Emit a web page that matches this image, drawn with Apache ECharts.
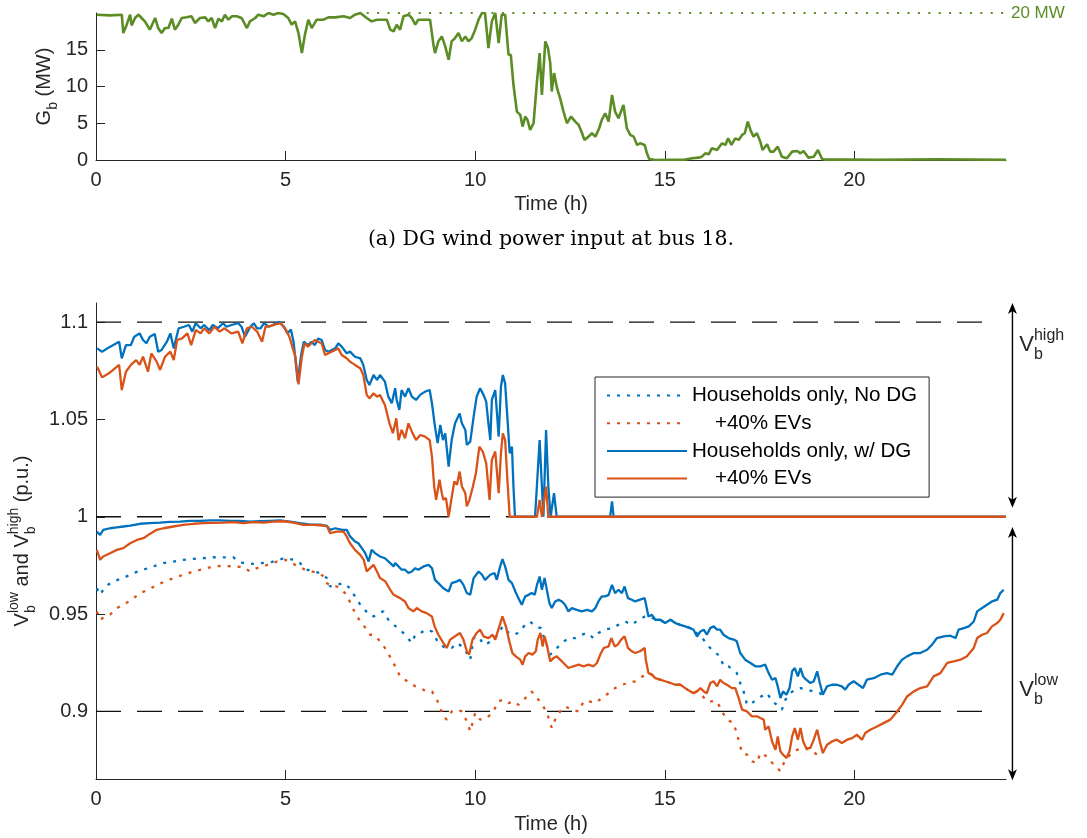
<!DOCTYPE html>
<html>
<head>
<meta charset="utf-8">
<script src="https://cdn.jsdelivr.net/npm/echarts@6/dist/echarts.min.js"></script>
<style>
  html, body { margin: 0; padding: 0; background: #fff; }
  #chart { width: 1087px; height: 838px; }
</style>
</head>
<body>
<div id="chart"></div>
<script>
// ---- (a) wind power at bus 18, MW ----
const windTime = [0.02,0.37,0.68,0.72,0.81,0.90,0.94,1.03,1.12,1.20,1.29,1.42,1.56,1.64,1.73,1.82,1.91,2.00,2.08,2.17,2.26,2.39,2.52,2.61,2.74,2.88,2.96,3.05,3.14,3.23,3.32,3.40,3.49,3.58,3.71,3.84,3.98,4.06,4.20,4.28,4.42,4.55,4.68,4.81,4.94,5.07,5.16,5.25,5.34,5.43,5.51,5.60,5.69,5.82,6.00,6.13,6.31,6.53,6.70,6.83,6.97,7.14,7.27,7.41,7.54,7.67,7.76,7.85,7.93,8.02,8.11,8.24,8.33,8.42,8.50,8.64,8.81,8.90,8.94,9.03,9.12,9.21,9.30,9.38,9.47,9.56,9.65,9.74,9.82,9.91,10.00,10.09,10.18,10.26,10.35,10.44,10.53,10.62,10.70,10.79,10.88,10.94,11.01,11.10,11.19,11.25,11.32,11.38,11.45,11.54,11.63,11.70,11.76,11.85,11.92,11.98,12.02,12.08,12.16,12.24,12.33,12.42,12.53,12.64,12.73,12.82,12.88,12.99,13.08,13.17,13.27,13.34,13.43,13.52,13.61,13.69,13.78,13.91,14.00,14.09,14.18,14.27,14.35,14.47,14.53,14.59,14.75,15.54,15.72,15.89,15.98,16.07,16.16,16.24,16.38,16.51,16.60,16.67,16.76,16.86,16.95,17.04,17.11,17.19,17.26,17.34,17.43,17.52,17.58,17.70,17.78,17.87,17.98,18.09,18.22,18.36,18.49,18.58,18.66,18.79,18.93,19.04,19.15,19.23,19.76,20.64,22.22,24.0];
const windMW = [19.77,19.68,19.77,17.27,18.41,19.77,18.32,19.32,19.77,19.32,18.86,17.73,19.32,17.95,17.27,17.95,17.95,19.23,17.73,18.41,19.32,19.41,19.55,18.64,19.32,19.41,18.86,19.32,17.95,19.23,18.86,19.77,19.09,19.55,19.55,19.32,17.95,18.86,19.32,19.77,19.55,20.0,19.77,20.0,19.86,19.32,18.41,18.86,17.27,14.55,17.05,19.09,17.95,19.09,19.09,19.41,19.41,19.55,19.32,19.77,20.0,19.32,18.86,19.09,19.09,19.09,17.73,17.50,18.41,17.73,19.55,19.77,19.32,18.41,19.09,19.09,19.09,15.68,14.55,16.14,16.82,15.45,13.64,16.14,16.59,17.27,16.14,16.82,16.14,16.59,17.73,19.09,20.0,20.0,15.23,18.86,20.0,15.91,19.77,19.77,14.32,14.32,10.23,6.59,6.14,4.55,5.91,5.45,4.09,5.0,10.68,14.55,8.86,16.14,15.23,13.18,9.32,11.82,9.77,8.41,6.59,5.0,5.91,5.23,4.77,3.64,2.73,3.18,3.64,3.18,4.32,5.45,6.36,5.23,8.86,6.59,5.68,7.5,4.32,3.41,3.18,2.05,2.27,2.05,0.91,0.14,0,0.05,0.23,0.32,0.45,0.91,0.77,1.59,1.36,2.27,2.05,2.95,2.05,2.95,2.73,3.41,3.64,5.23,4.09,3.18,3.64,2.5,1.36,2.14,1.14,1.14,1.82,0.45,0.23,1.14,1.23,0.91,1.23,0.32,0.45,1.36,0.14,0.05,0.05,0.02,0.1,0.02];
const windCap = 20;
const windCapFrom = 7.14;

// ---- (b) bus voltages, p.u. ----
// upper envelope V_b^high, households only with DG
const highBaseTime = [0.03,0.16,0.34,0.61,0.68,0.79,0.92,1.01,1.15,1.24,1.33,1.42,1.55,1.64,1.73,1.87,1.96,2.05,2.18,2.32,2.45,2.54,2.63,2.76,2.85,2.99,3.08,3.21,3.35,3.44,3.57,3.75,3.84,3.93,4.07,4.16,4.25,4.34,4.43,4.56,4.69,4.83,4.96,5.05,5.14,5.21,5.32,5.41,5.48,5.59,5.68,5.77,5.86,5.95,6.04,6.13,6.31,6.39,6.48,6.61,6.70,6.83,6.97,7.05,7.14,7.21,7.32,7.41,7.49,7.62,7.71,7.80,7.89,7.93,8.00,8.06,8.15,8.24,8.33,8.44,8.55,8.68,8.80,8.86,8.94,9.01,9.08,9.15,9.21,9.30,9.38,9.47,9.59,9.65,9.74,9.78,9.87,9.96,10.04,10.13,10.22,10.29,10.35,10.40,10.44,10.53,10.62,10.68,10.73,10.79,10.86,10.91,10.97,11.01,11.05,11.58,11.70,11.76,11.80,11.87,11.93,11.99,12.08,12.15,13.56,13.61,13.65,24.0];
const highBase = [1.0865,1.0848,1.0870,1.0899,1.0814,1.0882,1.0882,1.0925,1.0942,1.0908,1.0891,1.0925,1.0939,1.0848,1.0857,1.0899,1.0942,1.0865,1.0968,1.0976,1.0985,1.0951,1.0994,1.0968,1.0985,1.0959,1.0985,1.0968,1.0994,1.0976,1.0985,1.0994,1.0976,1.0925,1.0976,1.0994,1.0968,1.0968,1.0994,1.0976,1.0988,1.1000,1.0976,1.0942,1.0962,1.0899,1.0694,1.0831,1.0899,1.0882,1.0899,1.0882,1.0916,1.0908,1.0857,1.0848,1.0865,1.0891,1.0874,1.0840,1.0848,1.0822,1.0814,1.0780,1.0703,1.0677,1.0728,1.0703,1.0728,1.0694,1.0617,1.0583,1.0660,1.0600,1.0549,1.0651,1.0617,1.0660,1.0617,1.0600,1.0626,1.0643,1.0651,1.0583,1.0463,1.0378,1.0472,1.0394,1.0429,1.0258,1.0394,1.0480,1.0531,1.0480,1.0446,1.0369,1.0386,1.0514,1.0617,1.0660,1.0626,1.0591,1.0480,1.0394,1.0600,1.0651,1.0412,1.0668,1.0728,1.0685,1.0480,1.0326,1.0360,1.0155,1.0000,1.0,1.0394,1.0155,1.0,1.0446,1.0155,1.0,1.0121,1.0,1.0,1.0079,1.0,1.0];
// upper envelope, +40% EVs with DG
const highEvTime = [0.03,0.16,0.34,0.61,0.68,0.79,0.92,1.06,1.15,1.24,1.37,1.46,1.60,1.69,1.82,1.96,2.05,2.14,2.27,2.41,2.51,2.63,2.76,2.85,2.99,3.12,3.26,3.39,3.57,3.75,3.86,3.98,4.11,4.25,4.38,4.47,4.61,4.74,4.87,5.01,5.10,5.19,5.26,5.34,5.43,5.50,5.59,5.68,5.77,5.86,5.95,6.04,6.13,6.31,6.39,6.48,6.61,6.70,6.83,6.97,7.05,7.14,7.21,7.32,7.41,7.49,7.62,7.74,7.83,7.92,7.98,8.06,8.15,8.24,8.33,8.44,8.55,8.68,8.80,8.86,8.92,8.97,9.06,9.12,9.16,9.23,9.30,9.37,9.45,9.52,9.59,9.65,9.74,9.78,9.85,9.94,10.02,10.11,10.20,10.29,10.38,10.44,10.53,10.62,10.68,10.73,10.79,10.85,10.91,11.63,11.70,11.76,11.80,11.87,11.93,24.0];
const highEv = [1.0771,1.0716,1.0737,1.0780,1.0651,1.0745,1.0780,1.0805,1.0780,1.0822,1.0745,1.0839,1.0797,1.0754,1.0822,1.0848,1.0805,1.0908,1.0916,1.0942,1.0882,1.0959,1.0942,1.0968,1.0942,1.0976,1.0951,1.0968,1.0942,1.0951,1.0891,1.0968,1.0976,1.0951,1.0899,1.0976,1.0980,1.0988,1.0994,1.0959,1.0925,1.0865,1.0822,1.0680,1.0822,1.0891,1.0874,1.0891,1.0908,1.0899,1.0891,1.0831,1.0840,1.0857,1.0865,1.0831,1.0814,1.0797,1.0780,1.0763,1.0728,1.0626,1.0608,1.0634,1.0617,1.0626,1.0574,1.0480,1.0429,1.0506,1.0394,1.0446,1.0403,1.0480,1.0437,1.0394,1.0420,1.0412,1.0394,1.0309,1.0155,1.0087,1.0190,1.0121,1.0087,1.0096,1.0000,1.0087,1.0181,1.0164,1.0232,1.0155,1.0121,1.0053,1.0087,1.0155,1.0224,1.0360,1.0335,1.0275,1.0087,1.0292,1.0335,1.0121,1.0326,1.0429,1.0394,1.0190,1.0,1.0,1.0087,1.0,1.0,1.0155,1.0,1.0];
// lower envelope V_b^low, households only with DG
const lowBaseTime = [0.02,0.11,0.19,0.37,0.55,0.72,0.90,1.16,1.42,1.69,1.95,2.22,2.48,2.74,3.01,3.27,3.54,3.80,4.06,4.33,4.59,4.85,5.12,5.38,5.65,5.91,6.09,6.17,6.31,6.49,6.61,6.70,6.83,6.92,7.01,7.10,7.19,7.27,7.36,7.49,7.62,7.76,7.85,7.89,7.98,8.06,8.15,8.24,8.33,8.42,8.50,8.64,8.77,8.86,8.94,9.03,9.16,9.30,9.38,9.52,9.60,9.69,9.78,9.87,9.96,10.09,10.18,10.26,10.40,10.51,10.57,10.66,10.72,10.79,10.88,10.97,11.06,11.14,11.23,11.32,11.41,11.49,11.57,11.63,11.70,11.76,11.83,11.89,11.96,12.02,12.11,12.20,12.29,12.37,12.46,12.55,12.68,12.81,12.95,13.08,13.17,13.25,13.34,13.43,13.52,13.61,13.69,13.78,13.87,13.94,14.03,14.13,14.22,14.35,14.47,14.50,14.57,14.66,14.75,14.88,15.01,15.15,15.28,15.41,15.54,15.67,15.76,15.85,15.94,16.03,16.11,16.20,16.29,16.38,16.46,16.55,16.68,16.82,16.90,16.99,17.12,17.26,17.39,17.52,17.65,17.74,17.83,17.92,17.98,18.05,18.12,18.21,18.29,18.36,18.43,18.51,18.58,18.65,18.73,18.84,18.93,19.02,19.09,19.17,19.28,19.41,19.54,19.67,19.76,19.85,19.98,20.11,20.23,20.33,20.51,20.69,20.86,21.00,21.13,21.26,21.39,21.57,21.74,21.92,22.05,22.18,22.36,22.53,22.67,22.75,22.89,23.02,23.15,23.24,23.37,23.50,23.63,23.77,23.85,23.94];
const lowBase = [0.9924,0.9907,0.9933,0.9941,0.9946,0.9950,0.9955,0.9964,0.9967,0.9970,0.9974,0.9975,0.9979,0.9979,0.9981,0.9981,0.9979,0.9979,0.9975,0.9977,0.9979,0.9981,0.9975,0.9967,0.9959,0.9959,0.9953,0.9933,0.9941,0.9933,0.9933,0.9899,0.9873,0.9864,0.9839,0.9813,0.9770,0.9830,0.9813,0.9796,0.9787,0.9762,0.9745,0.9762,0.9745,0.9728,0.9728,0.9711,0.9719,0.9736,0.9728,0.9745,0.9753,0.9736,0.9676,0.9659,0.9633,0.9616,0.9659,0.9668,0.9676,0.9650,0.9608,0.9599,0.9685,0.9719,0.9702,0.9676,0.9702,0.9711,0.9676,0.9745,0.9782,0.9745,0.9676,0.9659,0.9616,0.9582,0.9548,0.9591,0.9599,0.9608,0.9599,0.9650,0.9693,0.9625,0.9685,0.9625,0.9556,0.9531,0.9565,0.9574,0.9565,0.9548,0.9514,0.9531,0.9522,0.9514,0.9522,0.9514,0.9531,0.9565,0.9591,0.9591,0.9599,0.9650,0.9608,0.9625,0.9608,0.9642,0.9582,0.9574,0.9565,0.9574,0.9582,0.9556,0.9488,0.9496,0.9471,0.9471,0.9454,0.9471,0.9454,0.9445,0.9437,0.9428,0.9420,0.9385,0.9411,0.9420,0.9394,0.9428,0.9437,0.9420,0.9420,0.9394,0.9377,0.9369,0.9360,0.9300,0.9266,0.9249,0.9232,0.9232,0.9240,0.9197,0.9163,0.9171,0.9129,0.9069,0.9103,0.9086,0.9120,0.9206,0.9223,0.9180,0.9223,0.9180,0.9163,0.9146,0.9155,0.9206,0.9146,0.9086,0.9129,0.9137,0.9137,0.9129,0.9112,0.9137,0.9155,0.9137,0.9120,0.9163,0.9171,0.9189,0.9197,0.9189,0.9232,0.9266,0.9283,0.9300,0.9300,0.9317,0.9343,0.9377,0.9386,0.9389,0.9377,0.9420,0.9428,0.9437,0.9462,0.9514,0.9531,0.9548,0.9565,0.9574,0.9608,0.9625];
// lower envelope, +40% EVs with DG
const lowEvTime = [0.02,0.11,0.19,0.37,0.55,0.72,0.90,1.08,1.25,1.42,1.60,1.78,2.04,2.30,2.57,2.83,3.10,3.36,3.62,3.89,4.15,4.42,4.68,4.94,5.21,5.47,5.73,6.00,6.10,6.17,6.35,6.53,6.61,6.70,6.83,6.97,7.06,7.14,7.23,7.32,7.41,7.49,7.63,7.76,7.85,7.89,8.02,8.15,8.24,8.37,8.46,8.59,8.72,8.86,8.93,9.03,9.16,9.25,9.34,9.47,9.60,9.69,9.78,9.84,9.93,10.04,10.13,10.22,10.35,10.46,10.53,10.61,10.72,10.81,10.90,10.98,11.07,11.19,11.25,11.32,11.41,11.51,11.60,11.65,11.72,11.78,11.83,11.89,11.98,12.07,12.15,12.24,12.33,12.46,12.59,12.73,12.86,12.99,13.12,13.21,13.30,13.39,13.52,13.59,13.68,13.76,13.85,13.94,14.03,14.13,14.22,14.35,14.47,14.50,14.57,14.66,14.75,14.88,15.01,15.15,15.28,15.41,15.54,15.67,15.76,15.85,15.94,16.03,16.11,16.20,16.29,16.38,16.46,16.55,16.64,16.77,16.86,16.95,17.04,17.17,17.30,17.43,17.52,17.61,17.65,17.74,17.83,17.92,17.98,18.05,18.12,18.21,18.29,18.36,18.43,18.51,18.58,18.65,18.73,18.84,18.93,19.02,19.09,19.17,19.28,19.41,19.54,19.67,19.81,19.94,20.07,20.20,20.29,20.42,20.60,20.77,20.95,21.13,21.26,21.39,21.57,21.74,21.92,22.09,22.27,22.45,22.62,22.80,22.97,23.15,23.24,23.37,23.50,23.63,23.77,23.85,23.94];
const lowEv = [0.9830,0.9779,0.9796,0.9813,0.9830,0.9839,0.9864,0.9881,0.9890,0.9912,0.9933,0.9941,0.9950,0.9958,0.9964,0.9967,0.9969,0.9970,0.9972,0.9967,0.9972,0.9970,0.9975,0.9977,0.9970,0.9958,0.9958,0.9955,0.9950,0.9916,0.9924,0.9924,0.9899,0.9864,0.9830,0.9804,0.9779,0.9719,0.9736,0.9753,0.9719,0.9685,0.9668,0.9625,0.9599,0.9608,0.9582,0.9565,0.9531,0.9514,0.9531,0.9514,0.9505,0.9488,0.9437,0.9394,0.9352,0.9326,0.9369,0.9386,0.9403,0.9369,0.9309,0.9292,0.9369,0.9403,0.9420,0.9386,0.9377,0.9394,0.9369,0.9420,0.9488,0.9437,0.9360,0.9300,0.9283,0.9266,0.9240,0.9283,0.9300,0.9292,0.9309,0.9369,0.9403,0.9334,0.9386,0.9343,0.9257,0.9275,0.9283,0.9266,0.9249,0.9223,0.9232,0.9240,0.9232,0.9240,0.9232,0.9249,0.9292,0.9326,0.9334,0.9377,0.9334,0.9343,0.9369,0.9386,0.9326,0.9309,0.9300,0.9309,0.9326,0.9266,0.9197,0.9189,0.9171,0.9163,0.9155,0.9146,0.9137,0.9137,0.9120,0.9103,0.9094,0.9103,0.9120,0.9103,0.9094,0.9146,0.9155,0.9129,0.9163,0.9146,0.9137,0.9120,0.9120,0.9069,0.9009,0.9000,0.8975,0.8975,0.8966,0.8958,0.8906,0.8923,0.8846,0.8803,0.8872,0.8795,0.8778,0.8761,0.8795,0.8872,0.8915,0.8855,0.8915,0.8846,0.8812,0.8812,0.8855,0.8906,0.8846,0.8786,0.8829,0.8846,0.8855,0.8838,0.8855,0.8863,0.8880,0.8855,0.8889,0.8906,0.8923,0.8940,0.8958,0.9000,0.9034,0.9077,0.9103,0.9120,0.9129,0.9180,0.9197,0.9249,0.9257,0.9266,0.9283,0.9326,0.9377,0.9394,0.9403,0.9437,0.9454,0.9471,0.9505];
// lower envelope, households only, no DG (joins the DG curve once wind is gone)
const lowBaseNoDgTime = [0.02,0.11,0.24,0.46,0.72,0.99,1.25,1.51,1.78,2.04,2.30,2.57,2.83,3.10,3.36,3.62,3.80,3.98,4.15,4.33,4.59,4.85,5.03,5.21,5.38,5.56,5.73,5.91,6.09,6.17,6.35,6.53,6.70,6.83,6.97,7.06,7.19,7.32,7.45,7.58,7.71,7.85,7.89,8.02,8.15,8.33,8.42,8.55,8.72,8.86,9.03,9.21,9.38,9.52,9.65,9.78,9.87,9.96,10.09,10.22,10.35,10.48,10.61,10.72,10.84,10.97,11.14,11.32,11.45,11.58,11.74,11.83,11.98,12.11,12.29,12.46,12.64,12.81,12.95,13.12,13.25,13.43,13.61,13.78,13.96,14.13,14.31,14.48,14.62,14.75,14.88,15.01,15.15,15.28,15.41,15.54,15.67,15.76,15.85,15.94,16.11,16.29,16.46,16.55,16.68,16.90,16.99,17.08,17.17,17.30,17.48,17.70,17.83,17.96,18.09,18.18,18.31,18.44,18.58,18.75,18.93,19.09,19.19];
const lowBaseNoDg = [0.9633,0.9599,0.9642,0.9668,0.9685,0.9711,0.9728,0.9745,0.9762,0.9770,0.9779,0.9784,0.9787,0.9792,0.9791,0.9792,0.9765,0.9762,0.9758,0.9762,0.9765,0.9782,0.9787,0.9779,0.9762,0.9728,0.9719,0.9711,0.9685,0.9642,0.9650,0.9659,0.9633,0.9591,0.9548,0.9531,0.9497,0.9488,0.9505,0.9514,0.9471,0.9445,0.9437,0.9420,0.9394,0.9352,0.9394,0.9403,0.9420,0.9411,0.9352,0.9326,0.9326,0.9352,0.9334,0.9300,0.9266,0.9377,0.9386,0.9343,0.9352,0.9377,0.9394,0.9437,0.9411,0.9394,0.9403,0.9445,0.9462,0.9437,0.9428,0.9369,0.9292,0.9317,0.9352,0.9377,0.9377,0.9394,0.9403,0.9377,0.9403,0.9420,0.9428,0.9445,0.9462,0.9445,0.9471,0.9488,0.9488,0.9471,0.9471,0.9454,0.9471,0.9454,0.9445,0.9437,0.9428,0.9420,0.9400,0.9394,0.9343,0.9309,0.9283,0.9232,0.9232,0.9197,0.9146,0.9103,0.9034,0.9043,0.9069,0.9094,0.9052,0.9034,0.9009,0.9060,0.9094,0.9112,0.9120,0.9112,0.9103,0.9094,0.9077];
// lower envelope, +40% EVs, no DG
const lowEvNoDgTime = [0.02,0.11,0.24,0.37,0.55,0.72,0.94,1.16,1.38,1.60,1.82,2.04,2.30,2.57,2.83,3.10,3.36,3.62,3.89,4.06,4.24,4.42,4.59,4.77,4.99,5.16,5.34,5.51,5.69,5.87,6.00,6.09,6.22,6.35,6.48,6.61,6.75,6.88,7.01,7.14,7.23,7.32,7.41,7.54,7.67,7.80,7.89,8.02,8.15,8.28,8.42,8.55,8.72,8.86,8.99,9.08,9.16,9.25,9.38,9.52,9.65,9.78,9.87,10.00,10.13,10.31,10.48,10.61,10.75,10.88,11.01,11.14,11.28,11.41,11.49,11.58,11.67,11.76,11.85,11.94,12.02,12.11,12.24,12.37,12.55,12.73,12.86,12.99,13.17,13.34,13.52,13.69,13.87,14.05,14.22,14.35,14.48,14.57,14.66,14.75,14.88,15.01,15.15,15.28,15.41,15.54,15.67,15.76,15.85,15.94,16.11,16.38,16.51,16.64,16.82,16.97,17.04,17.17,17.30,17.43,17.52,17.70,17.87,18.05,18.18,18.36,18.49,18.66,18.84,19.02,19.15];
const lowEvNoDg = [0.9514,0.9471,0.9488,0.9497,0.9531,0.9548,0.9574,0.9608,0.9625,0.9650,0.9668,0.9685,0.9702,0.9719,0.9731,0.9745,0.9748,0.9745,0.9741,0.9719,0.9736,0.9745,0.9758,0.9770,0.9779,0.9762,0.9745,0.9728,0.9719,0.9711,0.9694,0.9659,0.9642,0.9642,0.9625,0.9599,0.9539,0.9488,0.9454,0.9420,0.9394,0.9394,0.9377,0.9352,0.9309,0.9266,0.9231,0.9180,0.9163,0.9146,0.9129,0.9120,0.9103,0.9103,0.9060,0.9017,0.8975,0.8958,0.9000,0.9009,0.9000,0.8949,0.8898,0.8992,0.8958,0.8966,0.9000,0.9052,0.9060,0.9043,0.9052,0.9034,0.9060,0.9086,0.9103,0.9077,0.9060,0.9034,0.9009,0.8966,0.8915,0.8958,0.9000,0.9026,0.9009,0.9000,0.9052,0.9052,0.9043,0.9069,0.9094,0.9120,0.9137,0.9146,0.9155,0.9171,0.9189,0.9197,0.9189,0.9171,0.9163,0.9155,0.9146,0.9137,0.9137,0.9120,0.9103,0.9094,0.9103,0.9094,0.9052,0.9052,0.9000,0.8958,0.8940,0.8838,0.8786,0.8778,0.8744,0.8735,0.8786,0.8769,0.8727,0.8693,0.8753,0.8786,0.8803,0.8812,0.8803,0.8778,0.8786];

const limits = [1.1, 1.0, 0.9];
const limitsUntil = 23.55;
const timeTicks = [0, 5, 10, 15, 20];
const windTicks = [0, 5, 10, 15];
const voltTicks = [0.9, 0.95, 1, 1.05, 1.1];
// right-hand range arrows: [bottom, top] in p.u.
const rangeArrows = [[1.0046, 1.1098], [0.8647, 0.9948]];
const rangeLabels = [{ sup: 'high', v: 1.0882 }, { sup: 'low', v: 0.911 }];

const BLUE = '#0072BD', ORANGE = '#D95319', GREEN = '#5B8C25', INK = '#262626';
const SANS = "'Liberation Sans', Arial, sans-serif";
const NAME_NODG = 'Households only, No DG', NAME_NODG_EV = '    +40% EVs';
const NAME_DG = 'Households only, w/ DG', NAME_DG_EV = '    +40% EVs ';

const zip = (t, v) => t.map((x, i) => [x, v[i]]);

const chart = echarts.init(document.getElementById('chart'));

function xAxisFor(grid, gap) {
  return {
    type: 'value', gridIndex: grid, min: 0, max: 24,
    name: 'Time (h)', nameLocation: 'middle', nameGap: gap,
    nameTextStyle: { fontFamily: SANS, fontSize: 20, color: INK },
    axisLine: { show: true, onZero: false, lineStyle: { color: INK, width: 1 } },
    axisTick: { show: true, inside: true, length: 9, customValues: timeTicks, lineStyle: { color: INK } },
    axisLabel: { customValues: timeTicks, margin: 10, fontFamily: SANS, fontSize: 20, color: INK },
    splitLine: { show: false }
  };
}
function yAxisFor(grid, min, max, ticks) {
  return {
    type: 'value', gridIndex: grid, min: min, max: max,
    axisLine: { show: true, onZero: false, lineStyle: { color: INK, width: 1 } },
    axisTick: { show: true, inside: true, length: 9, customValues: ticks, lineStyle: { color: INK } },
    axisLabel: { customValues: ticks, margin: 8, fontFamily: SANS, fontSize: 20, color: INK },
    splitLine: { show: false }
  };
}
function vLine(name, color, t, v, type, high) {
  return {
    name: name, type: 'line', xAxisIndex: 1, yAxisIndex: 1,
    data: zip(t, v), symbol: 'none', showSymbol: false, silent: true,
    itemStyle: { color: color },
    lineStyle: { color: color, width: 2.3, type: type, cap: 'butt' },
    z: high ? 4 : 3
  };
}

const series = [
  {
    name: 'wind', type: 'line', xAxisIndex: 0, yAxisIndex: 0,
    data: zip(windTime, windMW), symbol: 'none', silent: true,
    lineStyle: { color: GREEN, width: 2.6 }
  },
  {
    name: 'cap', type: 'line', xAxisIndex: 0, yAxisIndex: 0,
    data: [[windCapFrom, windCap], [24, windCap]], symbol: 'none', silent: true,
    lineStyle: { color: GREEN, width: 2, type: [2, 8.4] }
  }
];
limits.forEach(function (v) {
  series.push({
    name: 'limit ' + v, type: 'line', xAxisIndex: 1, yAxisIndex: 1,
    data: [[0, v], [limitsUntil, v]], symbol: 'none', silent: true,
    lineStyle: { color: '#111', width: 1.3, type: [25, 16] }, z: 2
  });
});
series.push(
  vLine(NAME_NODG, BLUE, lowBaseNoDgTime, lowBaseNoDg, [3, 7]),
  vLine(NAME_NODG_EV, ORANGE, lowEvNoDgTime, lowEvNoDg, [3, 7]),
  vLine(NAME_DG, BLUE, highBaseTime, highBase, 'solid', true),
  vLine(NAME_DG, BLUE, lowBaseTime, lowBase, 'solid', true),
  vLine(NAME_DG_EV, ORANGE, highEvTime, highEv, 'solid', true),
  vLine(NAME_DG_EV, ORANGE, lowEvTime, lowEv, 'solid', true)
);

chart.setOption({
  animation: false,
  backgroundColor: '#fff',
  grid: [
    { left: 96, right: 81, top: 13, height: 147, containLabel: false, outerBoundsMode: 'none' },
    { left: 96, right: 81, top: 303, height: 476, containLabel: false, outerBoundsMode: 'none' }
  ],
  xAxis: [xAxisFor(0, 34), xAxisFor(1, 35)],
  yAxis: [yAxisFor(0, 0, windCap, windTicks), yAxisFor(1, 0.8653, 1.1098, voltTicks)],
  legend: {
    data: [NAME_NODG, NAME_NODG_EV, NAME_DG, NAME_DG_EV],
    orient: 'vertical', left: 595, top: 377,
    itemWidth: 80, itemHeight: 20, itemGap: 6.7,
    padding: [8, 12, 8, 11],
    borderColor: INK, borderWidth: 1, backgroundColor: '#fff',
    selectedMode: false,
    itemStyle: { opacity: 0, borderWidth: 0 },
    textStyle: { fontFamily: SANS, fontSize: 20.6, color: '#000' }
  },
  series: series
});

// ---- annotations: labels with sub/superscripts, arrows, caption ----
const ctx = document.createElement('canvas').getContext('2d');
function textWidth(s, size, family) {
  ctx.font = size + 'px ' + (family || SANS);
  return ctx.measureText(s).width;
}
function txt(s, x, y, size, color, family) {
  return {
    type: 'text', x: x, y: y, silent: true,
    style: {
      text: s, fontSize: size, fontFamily: family || SANS, fill: color || INK,
      align: 'left', verticalAlign: 'middle', textAlign: 'left', textVerticalAlign: 'middle'
    }
  };
}
// segments: {main, sup, sub}; returns children laid out along local x
function scripted(segments, size, small, supShift, subShift) {
  let cx = 0; const kids = [];
  segments.forEach(function (seg) {
    if (seg.main) { kids.push(txt(seg.main, cx, 0, size)); cx += textWidth(seg.main, size); }
    let w = 0;
    if (seg.sup) { kids.push(txt(seg.sup, cx, -supShift, small)); w = Math.max(w, textWidth(seg.sup, small)); }
    if (seg.sub) { kids.push(txt(seg.sub, cx, subShift, small)); w = Math.max(w, textWidth(seg.sub, small)); }
    cx += w;
  });
  return { kids: kids, width: cx };
}
function verticalLabel(segments, xCenter, yCenter) {
  const r = scripted(segments, 20, 14, 8, 9);
  r.kids.forEach(function (k) { k.x -= r.width / 2; });
  return { type: 'group', x: xCenter, y: yCenter, rotation: Math.PI / 2, children: r.kids };
}
function arrowHead(x, tipY, dir) {
  const h = 11, w = 4.5, notch = 3;
  return {
    type: 'polygon', silent: true,
    shape: { points: [[x, tipY], [x - w, tipY + dir * h], [x, tipY + dir * (h - notch)], [x + w, tipY + dir * h]] },
    style: { fill: '#000' }
  };
}

const p0a = chart.convertToPixel({ gridIndex: 0 }, [0, 0]);
const p0b = chart.convertToPixel({ gridIndex: 0 }, [24, windCap]);
const p1a = chart.convertToPixel({ gridIndex: 1 }, [0, 0.8653]);
const p1b = chart.convertToPixel({ gridIndex: 1 }, [24, 1.1098]);

const graphics = [];
graphics.push(verticalLabel([{ main: 'G', sub: 'b' }, { main: ' (MW)' }], 44, (p0a[1] + p0b[1]) / 2));
graphics.push(verticalLabel([
  { main: 'V', sup: 'low', sub: 'b' }, { main: ' and ' },
  { main: 'V', sup: 'high', sub: 'b' }, { main: ' (p.u.)' }
], 22, (p1a[1] + p1b[1]) / 2));

const capPos = chart.convertToPixel({ gridIndex: 0 }, [24.13, windCap]);
graphics.push(txt('20 MW', capPos[0], capPos[1], 17, GREEN));

rangeArrows.forEach(function (span) {
  const lo = chart.convertToPixel({ gridIndex: 1 }, [24.17, span[0]]);
  const hi = chart.convertToPixel({ gridIndex: 1 }, [24.17, span[1]]);
  graphics.push({ type: 'line', silent: true, shape: { x1: hi[0], y1: hi[1] + 5, x2: lo[0], y2: lo[1] - 5 }, style: { stroke: '#000', lineWidth: 1.4 } });
  graphics.push(arrowHead(hi[0], hi[1], 1));
  graphics.push(arrowHead(lo[0], lo[1], -1));
});
rangeLabels.forEach(function (lab) {
  const p = chart.convertToPixel({ gridIndex: 1 }, [24.35, lab.v]);
  const r = scripted([{ main: 'V', sup: lab.sup, sub: 'b' }], 22, 16, 9, 10);
  graphics.push({ type: 'group', x: p[0], y: p[1], children: r.kids });
});

const caption = '(a) DG wind power input at bus 18.';
graphics.push({
  type: 'text', silent: true, x: (p0a[0] + p0b[0]) / 2, y: 240,
  style: {
    text: caption, fontSize: 20.5, fontFamily: "'DejaVu Serif', serif", fill: '#000',
    align: 'center', verticalAlign: 'middle', textAlign: 'center', textVerticalAlign: 'middle'
  }
});

chart.setOption({ graphic: graphics });
</script>
</body>
</html>
